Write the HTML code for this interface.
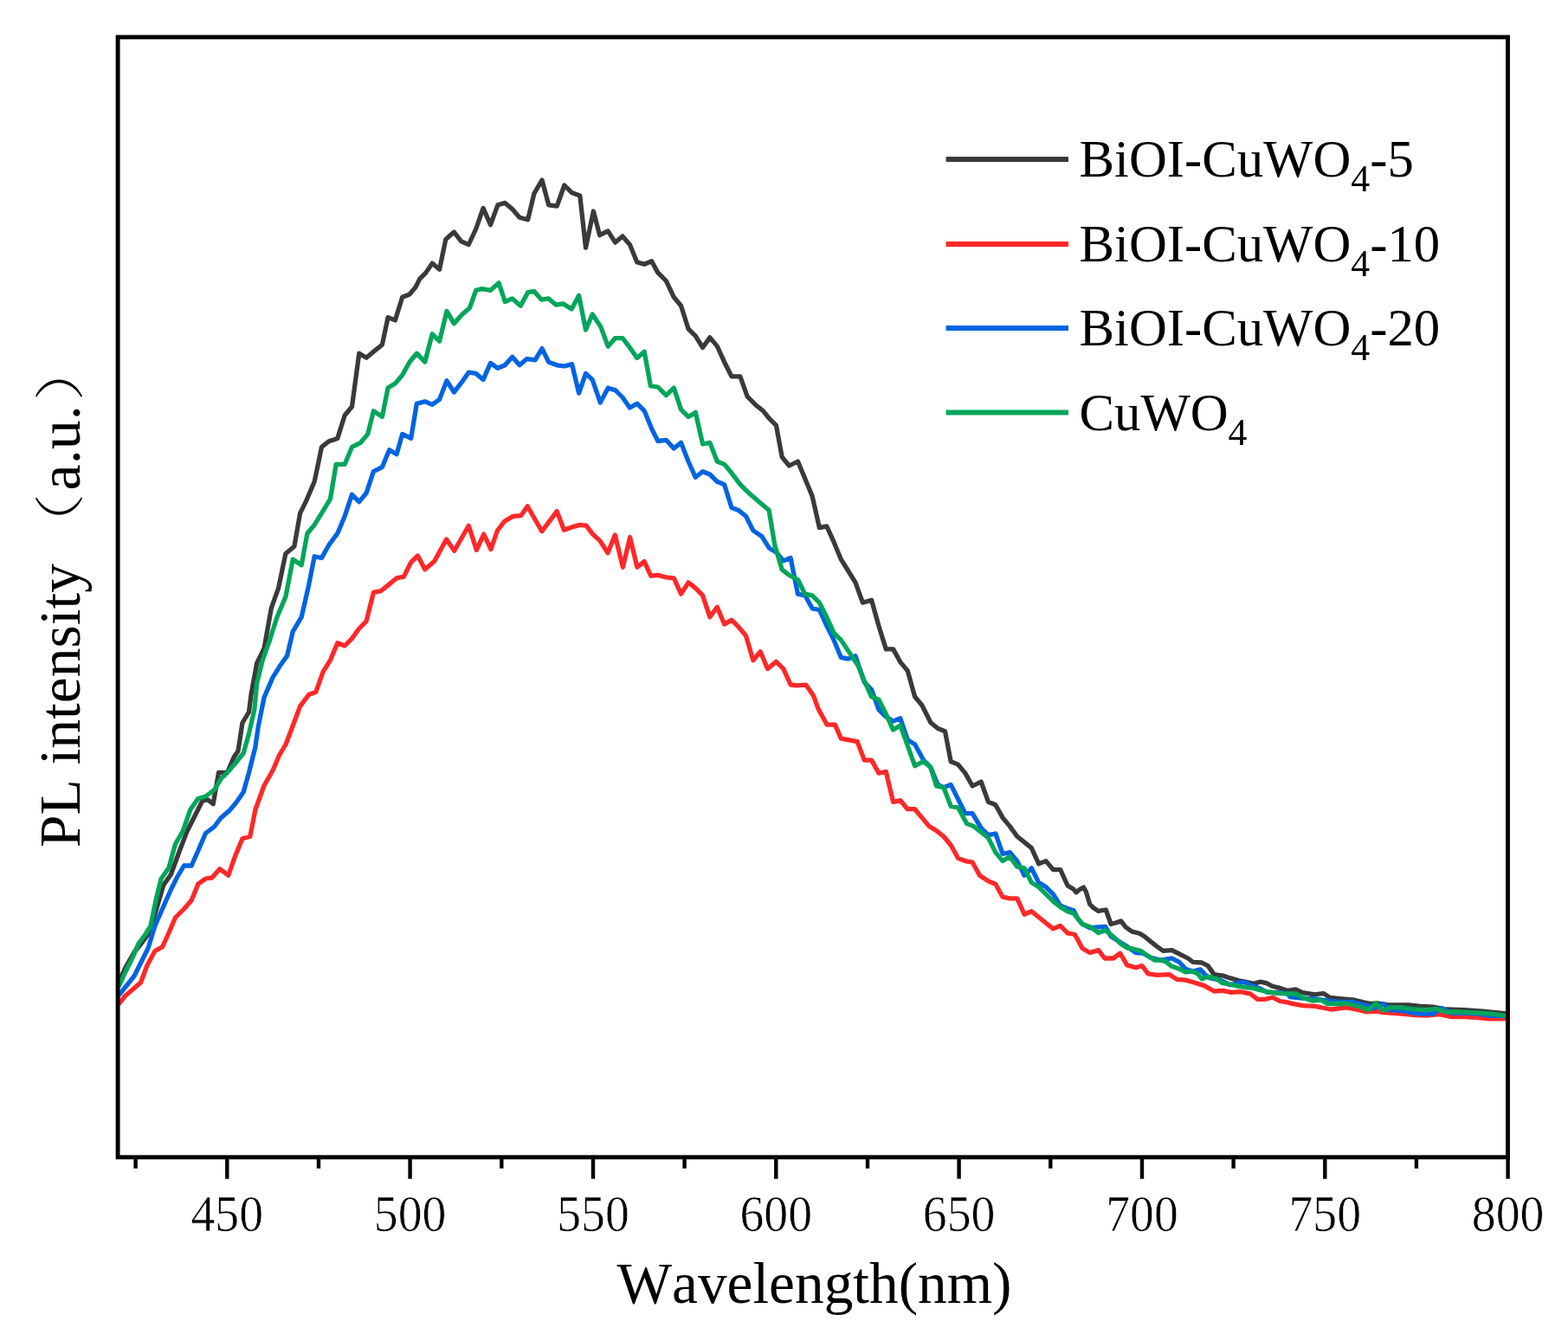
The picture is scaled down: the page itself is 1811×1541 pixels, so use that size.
<!DOCTYPE html>
<html><head><meta charset="utf-8"><title>PL spectra</title><style>
html,body{margin:0;padding:0;background:#fff;}
svg{display:block;}
text{font-family:"Liberation Serif","Noto Serif CJK SC",serif;fill:#000;font-kerning:none;}
text.tk{stroke:#fff;stroke-width:0.6px;}
</style></head><body><div id="c">
<svg width="1811" height="1541" viewBox="0 0 1811 1541">
<rect x="0" y="0" width="1811" height="1541" fill="#fff"/>
<g fill="none" stroke-width="5.3" stroke-linejoin="round" stroke-linecap="butt">
<path stroke="#3a3a3a" d="M137.0,1135.0 L145.0,1117.5 L155.0,1100.0 L165.0,1087.5 L172.5,1077.5 L180.0,1052.5 L188.8,1022.5 L197.5,1010.0 L207.5,982.5 L216.2,960.0 L225.0,942.5 L233.8,925.0 L240.0,923.8 L246.2,928.8 L252.5,892.5 L262.5,892.5 L270.0,875.0 L275.0,867.5 L280.0,835.0 L287.5,822.5 L290.0,802.5 L296.7,766.0 L305.0,749.3 L313.3,702.7 L321.6,679.4 L329.9,639.5 L339.9,631.2 L346.6,592.9 L353.2,579.6 L363.2,556.3 L371.5,516.4 L379.9,509.7 L389.8,506.4 L398.2,479.8 L406.5,469.8 L414.8,408.2 L423.1,413.2 L433.1,404.9 L441.4,398.2 L448.1,366.6 L456.4,369.9 L464.7,343.3 L473.0,340.0 L480.0,331.7 L484.8,322.1 L492.0,314.9 L499.2,304.1 L507.6,311.3 L514.8,276.5 L524.4,268.1 L532.8,278.9 L541.3,282.5 L549.7,264.5 L558.1,240.4 L566.5,259.7 L574.9,236.8 L583.3,234.4 L591.7,241.6 L600.1,251.3 L609.7,253.7 L616.9,223.6 L626.0,208.0 L633.7,236.8 L643.3,238.0 L651.8,214.0 L660.2,222.4 L669.8,226.0 L676.5,286.1 L685.4,244.0 L692.6,271.7 L702.2,266.9 L710.6,280.1 L719.0,272.9 L727.4,282.5 L735.8,302.9 L744.2,305.3 L752.6,301.7 L759.8,314.9 L769.4,324.5 L778.3,343.3 L786.6,353.3 L795.0,379.9 L803.3,388.2 L811.6,401.5 L819.9,389.9 L828.3,399.9 L836.6,418.2 L844.9,434.8 L854.9,434.8 L863.2,458.1 L873.2,468.1 L881.5,474.8 L888.2,483.1 L896.5,491.4 L903.2,528.0 L911.5,538.0 L921.5,533.0 L929.8,553.0 L938.1,573.0 L946.4,609.6 L954.8,607.9 L963.1,626.2 L971.4,646.2 L979.7,659.5 L988.0,672.8 L996.4,696.1 L1006.6,693.3 L1015.0,723.3 L1023.3,749.9 L1031.6,749.9 L1039.9,764.9 L1048.3,774.9 L1056.6,804.8 L1064.9,814.8 L1074.9,834.8 L1083.2,841.5 L1091.5,844.8 L1098.2,879.7 L1106.5,883.1 L1114.8,893.1 L1123.2,908.0 L1133.1,903.0 L1141.5,926.3 L1149.8,929.7 L1158.1,944.6 L1166.4,954.6 L1174.8,966.3 L1183.1,972.9 L1191.4,979.6 L1199.7,997.9 L1208.0,994.6 L1216.4,1004.6 L1224.7,1004.6 L1233.0,1022.9 L1240.0,1027.3 L1242.9,1030.9 L1247.2,1027.3 L1251.5,1025.1 L1254.4,1030.2 L1258.7,1044.5 L1263.0,1048.8 L1268.7,1052.4 L1277.3,1051.0 L1283.1,1067.5 L1288.8,1066.0 L1294.6,1063.9 L1300.3,1071.1 L1307.5,1076.1 L1316.1,1078.2 L1321.8,1081.8 L1329.0,1087.6 L1336.2,1093.3 L1343.4,1098.4 L1353.4,1097.6 L1362.0,1101.9 L1372.1,1107.0 L1377.8,1111.3 L1387.9,1112.0 L1395.1,1115.6 L1402.2,1125.6 L1412.3,1127.1 L1420.9,1129.9 L1431.0,1132.8 L1438.1,1134.2 L1448.2,1136.4 L1455.4,1134.2 L1462.6,1135.7 L1469.7,1139.3 L1478.3,1141.4 L1486.9,1144.3 L1496.5,1143.0 L1504.4,1146.6 L1518.7,1148.8 L1528.8,1147.6 L1535.9,1152.4 L1550.3,1153.8 L1564.7,1155.2 L1576.1,1158.1 L1583.3,1159.5 L1590.5,1158.8 L1604.9,1161.0 L1626.4,1161.0 L1640.8,1162.4 L1655.1,1163.1 L1669.5,1166.0 L1691.0,1166.7 L1712.5,1168.1 L1726.9,1169.6 L1739.8,1171.0"/>
<path stroke="#ff2828" d="M137.0,1160.0 L145.0,1150.0 L153.8,1142.5 L162.5,1135.0 L170.0,1115.0 L178.8,1098.8 L187.5,1093.8 L195.0,1077.5 L202.5,1060.0 L212.5,1050.0 L221.2,1040.0 L228.8,1021.2 L237.5,1015.0 L245.0,1013.8 L253.8,1003.8 L263.8,1011.2 L271.2,990.0 L280.0,968.8 L288.8,966.2 L295.0,935.0 L305.0,907.5 L315.0,890.0 L322.5,872.5 L330.0,860.0 L336.6,842.8 L346.6,815.9 L356.6,802.5 L364.9,799.2 L373.2,775.9 L381.5,762.6 L389.8,742.7 L398.2,746.0 L406.5,737.6 L414.8,726.0 L423.1,717.7 L431.4,684.4 L439.8,682.7 L448.1,676.1 L458.1,667.8 L466.4,666.1 L474.7,649.5 L482.5,642.0 L490.8,657.7 L501.5,648.6 L515.6,623.0 L524.7,636.2 L541.3,607.2 L550.4,635.4 L558.7,617.1 L567.0,634.5 L574.4,613.0 L582.7,602.2 L592.6,596.4 L601.8,595.6 L609.2,584.8 L625.8,613.8 L643.2,590.6 L651.4,612.2 L660.5,608.9 L669.7,606.4 L677.1,607.2 L684.6,617.1 L692.9,624.6 L702.0,638.7 L710.3,618.0 L719.4,655.2 L727.6,620.5 L735.9,655.2 L744.2,648.6 L751.7,665.2 L759.9,664.4 L769.0,666.8 L778.3,667.8 L786.6,686.2 L795.0,672.8 L803.3,679.4 L811.6,687.8 L819.9,712.8 L828.3,701.2 L836.6,721.1 L844.9,716.2 L853.2,724.5 L861.5,734.4 L869.9,762.7 L878.2,752.7 L886.5,772.6 L896.5,764.3 L904.8,772.6 L913.1,791.0 L920.0,791.9 L930.9,791.2 L939.5,803.6 L944.9,818.4 L955.0,837.1 L964.4,837.1 L971.4,853.1 L990.1,856.6 L998.3,878.1 L1006.6,878.1 L1015.0,893.1 L1023.3,891.4 L1031.6,926.3 L1039.9,924.7 L1048.3,934.7 L1056.6,934.7 L1064.9,944.6 L1073.2,954.6 L1081.5,959.6 L1089.9,966.3 L1098.2,976.3 L1106.5,991.2 L1114.8,994.6 L1123.2,996.2 L1131.5,1011.2 L1141.5,1017.9 L1149.8,1021.2 L1158.1,1036.2 L1166.4,1037.8 L1174.8,1037.8 L1183.1,1056.2 L1191.4,1052.8 L1199.7,1059.5 L1208.0,1066.2 L1216.4,1072.8 L1224.7,1069.5 L1233.0,1077.8 L1241.3,1079.5 L1244.3,1084.7 L1250.1,1095.5 L1258.7,1100.5 L1268.7,1097.6 L1275.9,1107.0 L1285.9,1107.0 L1293.8,1101.2 L1301.7,1114.9 L1311.8,1117.7 L1319.0,1115.6 L1326.1,1124.9 L1336.2,1126.3 L1350.6,1125.6 L1359.2,1131.4 L1369.2,1132.1 L1379.3,1135.0 L1390.8,1138.6 L1402.2,1145.0 L1412.3,1144.3 L1422.3,1146.4 L1432.4,1145.7 L1443.9,1147.9 L1452.5,1154.3 L1461.1,1154.3 L1469.7,1152.2 L1478.3,1156.5 L1486.9,1157.9 L1490.0,1158.8 L1504.4,1161.7 L1518.7,1162.4 L1537.4,1166.0 L1554.6,1163.8 L1566.1,1166.0 L1579.0,1168.9 L1590.5,1168.1 L1597.7,1169.6 L1619.2,1171.0 L1633.6,1172.5 L1648.0,1173.2 L1662.3,1171.7 L1676.6,1174.6 L1691.0,1174.6 L1705.4,1175.3 L1719.7,1176.8 L1740.5,1176.8"/>
<path stroke="#0064e1" d="M137.0,1150.0 L145.0,1140.0 L155.0,1127.5 L162.5,1112.5 L171.2,1095.0 L178.8,1070.0 L187.5,1050.0 L197.5,1027.5 L205.0,1012.5 L212.5,1000.0 L221.2,1000.0 L230.0,980.0 L237.5,962.5 L247.5,955.0 L255.0,945.0 L265.0,936.2 L272.5,927.5 L281.2,915.0 L287.5,892.5 L295.0,862.5 L298.3,839.2 L305.0,805.9 L315.0,782.6 L323.3,769.3 L331.6,757.6 L338.3,729.4 L348.2,712.8 L356.6,676.1 L363.2,642.8 L371.5,644.5 L379.9,629.5 L389.8,616.2 L398.2,596.2 L406.5,571.3 L414.8,579.6 L423.1,569.6 L431.4,544.6 L441.4,539.6 L449.7,519.7 L458.1,524.7 L464.7,501.4 L474.7,506.4 L481.3,466.4 L490.8,463.8 L499.2,467.4 L507.6,461.4 L516.0,439.8 L524.4,453.0 L532.8,442.2 L541.3,430.2 L549.7,431.4 L558.1,438.6 L566.5,419.4 L574.9,425.4 L583.3,421.8 L591.7,412.2 L600.1,421.8 L608.5,414.6 L618.1,415.8 L626.0,402.6 L633.7,418.2 L643.3,421.8 L651.8,423.0 L660.6,420.6 L668.6,454.2 L676.5,431.4 L684.2,438.6 L693.3,465.0 L702.2,448.2 L710.6,450.6 L719.0,459.0 L727.4,471.0 L735.8,466.2 L744.2,474.6 L752.6,495.1 L759.8,509.5 L769.4,508.3 L778.3,518.0 L786.6,511.4 L795.0,533.0 L803.3,551.3 L811.6,544.7 L819.9,548.0 L828.3,556.3 L836.6,559.7 L844.9,586.3 L853.2,589.6 L861.5,596.3 L869.9,612.9 L879.9,619.6 L888.2,632.9 L896.5,637.9 L904.8,647.9 L913.1,644.5 L921.5,686.2 L929.8,687.8 L938.1,702.8 L946.4,704.5 L954.8,722.8 L963.1,739.4 L971.4,759.4 L979.7,761.1 L988.0,757.7 L998.3,788.2 L1006.6,796.5 L1015.0,819.8 L1023.3,828.1 L1031.6,833.1 L1039.9,829.8 L1048.3,854.8 L1056.6,859.8 L1066.6,878.1 L1074.9,886.4 L1083.2,906.4 L1089.9,909.7 L1098.2,906.4 L1106.5,923.0 L1114.8,939.7 L1123.2,939.7 L1133.1,956.3 L1141.5,964.6 L1149.8,963.0 L1158.1,986.3 L1166.4,984.6 L1174.8,994.6 L1183.1,1011.2 L1191.4,1002.9 L1199.7,1019.6 L1208.0,1024.6 L1216.4,1032.9 L1224.7,1046.2 L1233.0,1049.5 L1240.0,1051.7 L1244.3,1060.3 L1250.1,1067.5 L1258.7,1071.8 L1265.8,1071.1 L1276.6,1070.4 L1283.1,1081.8 L1294.6,1089.0 L1301.7,1093.3 L1311.8,1100.5 L1320.4,1101.2 L1329.0,1106.2 L1340.5,1109.1 L1353.4,1107.0 L1362.0,1111.3 L1369.2,1119.2 L1377.8,1122.0 L1386.4,1119.9 L1392.2,1126.3 L1397.9,1129.9 L1409.4,1132.1 L1420.9,1137.8 L1426.6,1136.4 L1436.7,1134.2 L1445.3,1138.6 L1455.4,1142.1 L1464.0,1146.4 L1475.5,1146.4 L1487.0,1147.9 L1490.0,1151.6 L1504.4,1153.1 L1518.7,1153.8 L1533.1,1155.9 L1547.4,1157.4 L1561.8,1157.4 L1576.1,1161.0 L1587.6,1164.6 L1597.7,1159.5 L1604.9,1166.7 L1619.2,1167.4 L1633.6,1170.3 L1640.8,1171.0 L1655.1,1171.0 L1665.2,1164.6 L1676.6,1170.3 L1691.0,1170.3 L1705.4,1171.0 L1719.7,1173.2 L1740.5,1173.9"/>
<path stroke="#00a65a" d="M137.0,1140.0 L145.0,1122.5 L152.5,1107.5 L160.0,1090.0 L167.5,1080.0 L173.8,1070.0 L180.0,1040.0 L186.2,1015.0 L195.0,1002.5 L202.5,975.0 L211.2,960.0 L220.0,935.0 L228.8,922.5 L237.5,920.0 L247.5,912.5 L255.0,900.0 L262.5,892.5 L271.2,882.5 L281.2,870.0 L287.5,847.5 L293.8,820.0 L296.7,789.2 L303.3,762.6 L311.6,739.3 L320.0,712.7 L329.9,689.4 L338.3,646.1 L348.2,652.8 L354.9,616.2 L363.2,606.2 L371.5,592.9 L381.5,576.3 L388.2,536.3 L398.2,536.3 L406.5,516.4 L416.5,511.4 L424.8,501.4 L431.4,474.8 L441.4,481.4 L448.1,448.1 L456.4,443.1 L464.7,433.2 L473.0,418.2 L481.3,408.2 L490.8,418.2 L499.2,385.8 L507.6,394.2 L516.0,359.4 L524.4,373.8 L534.0,363.0 L542.5,355.7 L549.7,335.3 L556.9,333.6 L566.5,335.3 L576.1,326.9 L583.3,348.5 L591.7,344.9 L601.3,353.3 L609.7,337.7 L616.9,336.5 L625.3,346.1 L633.7,344.9 L642.1,352.1 L650.6,350.9 L660.2,356.9 L668.6,341.3 L676.5,381.0 L684.2,363.0 L693.8,377.4 L702.2,400.2 L710.6,390.6 L719.0,390.6 L727.4,401.4 L735.8,413.4 L744.2,406.2 L751.4,445.8 L759.8,447.0 L769.4,456.6 L778.3,448.1 L786.6,473.1 L795.0,481.4 L803.3,476.4 L811.6,513.0 L819.9,511.4 L828.3,533.0 L836.6,536.4 L844.9,546.3 L854.9,559.7 L864.9,569.6 L876.5,579.6 L888.2,589.6 L894.8,629.6 L903.2,657.9 L911.5,664.5 L921.5,669.5 L929.8,686.2 L938.1,687.8 L946.4,696.1 L954.8,712.8 L963.1,731.1 L971.4,739.4 L981.4,754.4 L991.4,769.4 L998.3,786.5 L1006.6,804.8 L1015.0,808.2 L1023.3,824.8 L1031.6,843.1 L1039.9,838.1 L1048.3,861.4 L1056.6,884.7 L1066.6,879.7 L1074.9,886.4 L1081.5,908.0 L1089.9,909.7 L1098.2,931.3 L1106.5,933.0 L1116.5,951.3 L1124.8,954.6 L1133.1,961.3 L1141.5,967.9 L1149.8,984.6 L1158.1,994.6 L1166.4,989.6 L1174.8,1001.2 L1183.1,1002.9 L1191.4,1019.6 L1199.7,1024.6 L1208.0,1032.9 L1216.4,1041.2 L1224.7,1047.8 L1233.0,1052.8 L1240.0,1055.3 L1244.3,1060.3 L1250.1,1067.5 L1254.4,1068.9 L1260.1,1071.1 L1268.7,1077.5 L1276.6,1074.7 L1283.1,1079.7 L1288.8,1084.7 L1294.6,1090.5 L1301.7,1094.8 L1308.9,1096.2 L1317.5,1098.3 L1324.7,1103.4 L1333.3,1109.1 L1340.5,1109.1 L1346.2,1110.6 L1353.4,1116.3 L1362.0,1119.2 L1369.2,1122.8 L1376.4,1122.0 L1383.6,1124.9 L1387.9,1130.7 L1392.2,1129.2 L1397.9,1128.5 L1405.1,1130.7 L1412.3,1135.7 L1420.9,1137.1 L1431.0,1139.3 L1439.6,1140.7 L1446.7,1141.4 L1455.4,1143.6 L1464.0,1145.7 L1472.6,1147.2 L1484.1,1147.9 L1490.0,1148.0 L1497.2,1148.0 L1504.4,1152.4 L1515.8,1156.0 L1525.9,1155.2 L1533.1,1159.5 L1547.4,1159.5 L1554.6,1158.8 L1566.1,1161.7 L1573.3,1163.8 L1580.5,1166.7 L1589.1,1158.8 L1597.7,1167.4 L1604.9,1163.8 L1619.2,1163.8 L1633.6,1166.0 L1648.0,1166.7 L1658.0,1165.3 L1669.5,1168.9 L1683.8,1168.9 L1698.2,1169.6 L1712.5,1170.3 L1726.9,1171.7 L1740.5,1173.9"/>
</g>
<rect x="136.1" y="42.9" width="1605.4" height="1293.9" fill="none" stroke="#000" stroke-width="4.9"/>
<path d="M156.6,1336.8V1349.8M262.3,1336.8V1361.8M368.0,1336.8V1349.8M473.6,1336.8V1361.8M579.3,1336.8V1349.8M685.0,1336.8V1361.8M790.6,1336.8V1349.8M896.3,1336.8V1361.8M1002.0,1336.8V1349.8M1107.6,1336.8V1361.8M1213.3,1336.8V1349.8M1319.0,1336.8V1361.8M1424.6,1336.8V1349.8M1530.3,1336.8V1361.8M1635.9,1336.8V1349.8M1741.6,1336.8V1361.8" stroke="#000" stroke-width="4.4" fill="none"/>
<g font-size="59" text-anchor="middle">
<text class="tk" transform="translate(262.3,1422) scale(0.945,1)">450</text>
<text class="tk" transform="translate(473.6,1422) scale(0.945,1)">500</text>
<text class="tk" transform="translate(685.0,1422) scale(0.945,1)">550</text>
<text class="tk" transform="translate(896.3,1422) scale(0.945,1)">600</text>
<text class="tk" transform="translate(1107.6,1422) scale(0.945,1)">650</text>
<text class="tk" transform="translate(1319.0,1422) scale(0.945,1)">700</text>
<text class="tk" transform="translate(1530.3,1422) scale(0.945,1)">750</text>
<text class="tk" transform="translate(1741.6,1422) scale(0.945,1)">800</text>
</g>
<line x1="1092.6" y1="184" x2="1234" y2="184" stroke="#3a3a3a" stroke-width="6.0"/>
<text transform="translate(1246.5,204.3) scale(0.996,1)" font-size="61">BiOI-CuWO<tspan font-size="44" dy="17">4</tspan><tspan dy="-17">-5</tspan></text>
<line x1="1092.6" y1="282" x2="1234" y2="282" stroke="#ff2828" stroke-width="6.0"/>
<text transform="translate(1246.5,302.3) scale(0.996,1)" font-size="61">BiOI-CuWO<tspan font-size="44" dy="17">4</tspan><tspan dy="-17">-10</tspan></text>
<line x1="1092.6" y1="379" x2="1234" y2="379" stroke="#0064e1" stroke-width="6.0"/>
<text transform="translate(1246.5,399.3) scale(0.996,1)" font-size="61">BiOI-CuWO<tspan font-size="44" dy="17">4</tspan><tspan dy="-17">-20</tspan></text>
<line x1="1092.6" y1="476.5" x2="1234" y2="476.5" stroke="#00a65a" stroke-width="6.0"/>
<text transform="translate(1246.5,496.8) scale(0.996,1)" font-size="61">CuWO<tspan font-size="44" dy="17">4</tspan></text>
<text transform="translate(940.5,1505) scale(0.99,1)" font-size="68" text-anchor="middle">Wavelength(nm)</text>
<g font-size="68">
<text transform="translate(92,979.0) rotate(-90) scale(0.992,1)">PL intensity</text>
<text transform="translate(90,642.2) rotate(-90) scale(1.25,1)" font-size="58" style="font-family:'Liberation Serif','Noto Serif CJK SC','Noto Sans CJK SC',serif;font-weight:200">（</text>
<text transform="translate(92,566.4) rotate(-90)">a.u.</text>
<text transform="translate(90,463.5) rotate(-90) scale(1.25,1)" font-size="58" style="font-family:'Liberation Serif','Noto Serif CJK SC','Noto Sans CJK SC',serif;font-weight:200">）</text>
</g>
</svg></div>
</body></html>
